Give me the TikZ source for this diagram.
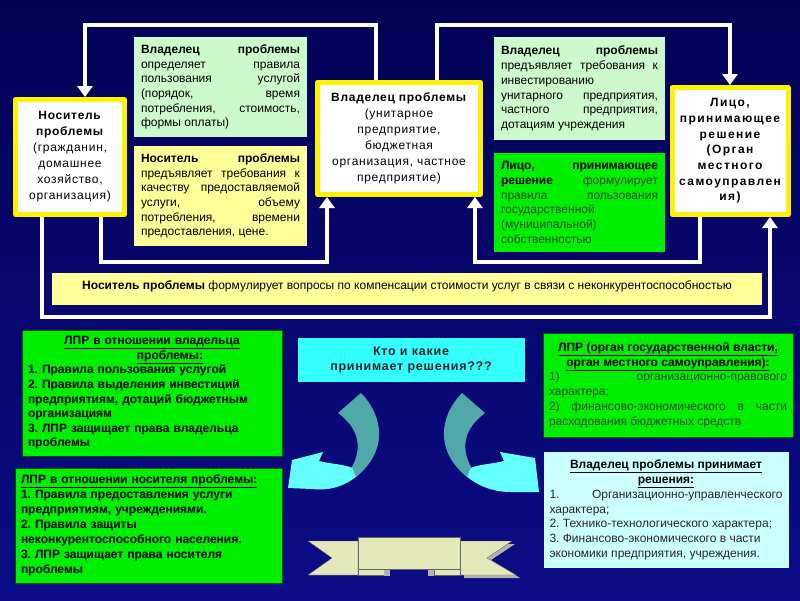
\documentclass[tikz,border=0pt]{standalone}
\usepackage{fontspec}
\setmainfont{Liberation Sans}
\newfontfamily\wide[LetterSpace=6]{Liberation Sans}
\newfontfamily\wider[LetterSpace=12]{Liberation Sans}
\usetikzlibrary{arrows.meta}
\frenchspacing
\definecolor{bgtop}{RGB}{2,2,85}
\definecolor{bgbot}{RGB}{12,12,135}
\definecolor{mint}{RGB}{204,250,204}
\definecolor{paleyel}{RGB}{255,255,153}
\definecolor{grn}{RGB}{0,238,0}
\definecolor{aqua}{RGB}{51,255,255}
\definecolor{paleaqua}{RGB}{204,255,255}
\definecolor{dimtext}{RGB}{45,75,45}
\definecolor{arrteal}{RGB}{80,168,168}
\definecolor{arrcyan}{RGB}{102,255,255}
\definecolor{ribbon}{RGB}{226,232,186}

\begin{document}
\begin{tikzpicture}[x=1pt, y=-1pt, line join=round,
	frame/.style={draw=yellow, line width=5pt, fill=white, align=center, inner sep=2pt, font=\fontsize{12}{16}\selectfont\wide},
	card/.style={inner xsep=7pt, inner ysep=3pt, align=justify, font=\fontsize{12}{14.7}\selectfont},
	panel/.style={draw=green!35!black, fill=grn, inner xsep=6pt, inner ysep=3pt, align=left, font=\fontsize{12}{14.8}\selectfont},
	link/.style={draw=white, line width=4.5pt, line join=miter},
	tip/.style={-{Triangle[width=15pt,length=11pt]}},
	band/.style={fill=ribbon, draw=black!60, thin}]
	\useasboundingbox (0,0) rectangle (800,600);
	\shade[top color=bgtop, bottom color=bgbot] (0,0) rectangle (800,600);
	
	% main boxes
	\node[frame, minimum width=109pt, minimum height=115pt, text width=104pt] (nositel) at (70,157)
		{\textbf{Носитель}\\ \textbf{проблемы}\\ (гражданин,\\ домашнее\\ хозяйство,\\ организация)};
	\node[frame, minimum width=163pt, minimum height=112pt, text width=158pt] (owner) at (399,138.5)
		{\textbf{Владелец проблемы}\\ (унитарное\\ предприятие,\\ бюджетная\\ организация, частное\\ предприятие)};
	\node[frame, font=\fontsize{12}{15.7}\selectfont\wider\bfseries, minimum width=115pt, minimum height=127pt, text width=112pt] (lpr) at (730,151)
		{Лицо,\\ принимающее\\ решение\\ (Орган\\ местного\\ самоуправлен\\ ия)};
	
	% text cards
	\node[card, fill=mint, minimum width=173pt, minimum height=100pt, text width=159pt] (rules) at (220.5,87)
		{\textbf{Владелец проблемы}\linebreak определяет правила\linebreak пользования услугой\linebreak (порядок, время\linebreak потребления, стоимость,\linebreak формы оплаты)};
	\node[card, fill=paleyel, minimum width=173pt, minimum height=100pt, text width=159pt] (demand) at (220.5,196)
		{\textbf{Носитель проблемы}\linebreak предъявляет требования к\linebreak качеству предоставляемой\linebreak услуги, объему\linebreak потребления, времени\linebreak предоставления, цене.};
	\node[card, fill=mint, minimum width=171pt, minimum height=103pt, text width=157pt] (invest) at (579.5,88.5)
		{\textbf{Владелец проблемы}\linebreak предъявляет требования к\linebreak инвестированию\newline унитарного предприятия,\linebreak частного предприятия,\linebreak дотациям учреждения};
	\node[card, fill=grn, text=dimtext, minimum width=171pt, minimum height=99pt, text width=157pt] (state) at (579.5,202.5)
		{\textbf{\color{black}Лицо, принимающее}\linebreak \textbf{\color{black}решение} формулирует\linebreak правила пользования\linebreak государственной\newline (муниципальной)\newline собственностью};
	\node[fill=paleyel, minimum width=710pt, minimum height=32pt, font=\fontsize{12}{14}\selectfont] (strip) at (407,289)
		{\raisebox{8pt}{\textbf{Носитель проблемы} формулирует вопросы по компенсации стоимости услуг в связи с неконкурентоспособностью}};
	
	% connectors
	\coordinate (tl) at (85,25);
	\coordinate (tr) at (730,25);
	\coordinate (bl) at (327,262);
	\coordinate (br) at (475,262);
	\coordinate (bot) at (0,317);
	\draw[link,tip] ([xshift=-23pt]owner.north) |- (tl) -- (tl |- nositel.north);
	\draw[link,tip] ([xshift=38pt]owner.north) |- (tr) -- (lpr.north);
	\draw[link,tip] ([xshift=31pt]nositel.south) |- (bl) -- (bl |- owner.south);
	\draw[link,tip] ([xshift=-30pt]lpr.south) |- (br) -- (br |- owner.south);
	\draw[link,tip] ([xshift=-28pt]nositel.south) |- ([xshift=40pt]lpr.south |- bot) -- ([xshift=40pt]lpr.south);
	
	% lower part
	\node[panel, font=\fontsize{12}{14.6}\selectfont\bfseries, minimum width=260pt, minimum height=126pt, text width=248pt] (lprA) at (152,393)
		{\makebox[\hsize]{\underline{ЛПР в отношении владельца}}\\
		 \makebox[\hsize]{\hspace{36pt}\underline{проблемы:}}\\
		 1. Правила пользования услугой\\ 2. Правила выделения инвестиций\\ предприятиям, дотаций бюджетным\\ организациям\\ 3. ЛПР защищает права владельца\\ проблемы};
	\node[fill=aqua, minimum width=227pt, minimum height=44pt, align=center, font=\fontsize{12.5}{15}\selectfont\wide\bfseries, text=black!85] (quest) at (411,360)
		{Кто и какие\\ принимает решения???};
	\node[panel, align=justify, text=dimtext, minimum width=250pt, minimum height=104pt, text width=238pt] (lprB) at (668,385)
		{\makebox[\hsize]{\textbf{\color{black}\underline{ЛПР (орган государственной власти,}}}\newline
		 \makebox[\hsize]{\textbf{\color{black}\underline{орган местного самоуправления):}}}\newline
		 1) \hfill организационно-правового\newline характера;\newline 2) финансово-экономического в части\linebreak расходования бюджетных средств};
	\node[panel, font=\fontsize{12}{15}\selectfont\bfseries, minimum width=267pt, minimum height=115pt, text width=255pt] (lprC) at (148.5,525.5)
		{\underline{ЛПР в отношении носителя проблемы:}\\ 1. Правила предоставления услуги\\ предприятиям, учреждениями.\\ 2. Правила защиты\\ неконкурентоспособного населения.\\ 3. ЛПР защищает права носителя\\ проблемы};
	\node[panel, fill=paleaqua, draw=none, align=justify, text=black!85, minimum width=245pt, minimum height=116pt, text width=233pt] (decide) at (666,510)
		{\makebox[\hsize]{\textbf{\color{black}\underline{Владелец проблемы принимает}}}\newline
		 \makebox[\hsize]{\textbf{\color{black}\underline{решения:}}}\newline
		 1. \hfill Организационно-управленческого\newline характера;\newline 2. Технико-технологического характера;\newline 3. Финансово-экономического в части\newline экономики предприятия, учреждения.};
	
	% curved arrows
	\begin{scope}
		\fill[arrcyan] (355,469) .. controls (345,464) and (330,464) .. (319,461) -- (323,452) -- (292,460)
			-- (288,488) -- (312,489) .. controls (330,491) and (345,486) .. (357,476) -- cycle;
		\fill[arrteal] (338,413) -- (361,393) .. controls (385,418) and (387,452) .. (356,477)
			-- (352,467) .. controls (363,446) and (358,428) .. (338,413) -- cycle;
	\end{scope}
	\begin{scope}[xshift=823pt, xscale=-1]
		\fill[arrcyan] (355,469) .. controls (345,464) and (330,464) .. (319,461) -- (323,452) -- (288,458)
			-- (284,492) -- (312,492) .. controls (330,492) and (345,486) .. (357,476) -- cycle;
		\fill[arrteal] (338,413) -- (361,393) .. controls (385,418) and (387,452) .. (356,477)
			-- (352,467) .. controls (363,446) and (358,428) .. (338,413) -- cycle;
	\end{scope}
	
	% ribbon
	\fill[gray!60] (464,544) -- (515,544) -- (491,560) -- (520,578) -- (464,578) -- cycle;
	\draw[band] (308,541) -- (358,541) -- (358,575) -- (308,575) -- (332,558) -- cycle;
	\draw[band] (512,541) -- (460,541) -- (460,575) -- (516,575) -- (487,558) -- cycle;
	\draw[band] (358,569) rectangle (384,575);
	\fill[gray!60] (384,569) rectangle (390,576);
	\draw[band] (434,569) rectangle (460,575);
	\fill[gray!60] (428,569) rectangle (434,576);
	\draw[band] (358,537) rectangle (460,569);
\end{tikzpicture}
\end{document}
